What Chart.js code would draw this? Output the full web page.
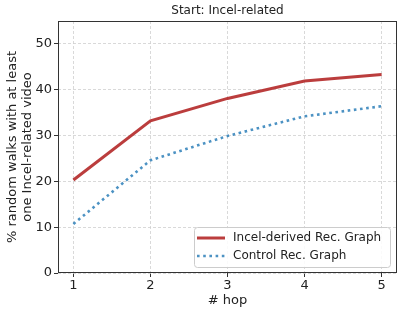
<!DOCTYPE html>
<html>
<head>
<meta charset="utf-8">
<script src="https://cdn.jsdelivr.net/npm/chart.js@4/dist/chart.umd.min.js"></script>
<style>
  html, body { margin: 0; padding: 0; background: #fff; }
  #wrap { width: 407px; height: 315px; }
</style>
</head>
<body>
<div id="wrap"><canvas id="hopChart" width="407" height="315"></canvas></div>
<script>
var hops = [1, 2, 3, 4, 5];
var yTicks = [0, 10, 20, 30, 40, 50];
var incelDerived = [20.3, 33.2, 38.1, 41.9, 43.3];
var control = [10.7, 24.6, 29.9, 34.2, 36.4];
var seriesNames = ['Incel-derived Rec. Graph', 'Control Rec. Graph'];

function toPoints(values) {
  return hops.map(function(h, i) { return { x: h, y: values[i] }; });
}

var font = 'DejaVu Sans';

// frame around the plot area, like matplotlib spines
var framePlugin = {
  id: 'frame',
  afterDraw: function(chart) {
    var a = chart.chartArea;
    var ctx = chart.ctx;
    ctx.save();
    ctx.strokeStyle = '#333';
    ctx.lineWidth = 1;
    ctx.strokeRect(a.left + 0.5, a.top + 0.5, a.right - a.left - 1, a.bottom - a.top - 1);
    ctx.restore();
  }
};

// legend inside the plot, lower right
var innerLegend = {
  id: 'innerLegend',
  afterDraw: function(chart) {
    var a = chart.chartArea;
    var ctx = chart.ctx;
    var w = 196, h = 40;
    var x = a.right - 7 - w, y = a.bottom - 6 - h;
    ctx.save();
    ctx.beginPath();
    if (ctx.roundRect) { ctx.roundRect(x + 0.5, y + 0.5, w, h, 3); } else { ctx.rect(x + 0.5, y + 0.5, w, h); }
    ctx.fillStyle = 'rgba(255,255,255,0.85)';
    ctx.fill();
    ctx.strokeStyle = '#cccccc';
    ctx.lineWidth = 1;
    ctx.stroke();
    ctx.font = '12px "' + font + '"';
    ctx.textBaseline = 'middle';
    ctx.textAlign = 'left';
    chart.data.datasets.forEach(function(ds, i) {
      var ry = y + 11 + i * 18;
      ctx.beginPath();
      ctx.strokeStyle = ds.borderColor;
      ctx.lineWidth = ds.borderWidth;
      ctx.setLineDash(ds.borderDash || []);
      ctx.moveTo(x + 3, ry);
      ctx.lineTo(x + 31, ry);
      ctx.stroke();
      ctx.setLineDash([]);
      ctx.fillStyle = '#222';
      ctx.fillText(ds.label, x + 39, ry);
    });
    ctx.restore();
  }
};

var ctx = document.getElementById('hopChart').getContext('2d');
new Chart(ctx, {
  type: 'line',
  data: {
    datasets: [{
      label: seriesNames[0],
      data: toPoints(incelDerived),
      borderColor: 'rgba(178, 34, 34, 0.88)',
      borderWidth: 3,
      pointRadius: 0,
      tension: 0
    }, {
      label: seriesNames[1],
      data: toPoints(control),
      borderColor: 'rgba(31, 119, 180, 0.8)',
      borderWidth: 2.6,
      borderDash: [2.6, 3.6],
      pointRadius: 0,
      tension: 0
    }]
  },
  plugins: [framePlugin, innerLegend],
  options: {
    responsive: false,
    animation: false,
    layout: { padding: { left: 4, right: 10, top: 0, bottom: 4 } },
    plugins: {
      legend: { display: false },
      tooltip: { enabled: false },
      title: {
        display: true,
        text: 'Start: Incel-related',
        fullSize: false,
        color: '#222',
        font: { family: font, size: 12, weight: 'normal', lineHeight: 1.2 },
        padding: { top: 4, bottom: 2.6 }
      }
    },
    scales: {
      x: {
        type: 'linear',
        min: 0.8,
        max: 5.2,
        afterBuildTicks: function(scale) {
          scale.ticks = hops.map(function(v) { return { value: v }; });
        },
        afterFit: function(scale) { scale.height = 38; },
        ticks: {
          color: '#222',
          padding: 1,
          maxRotation: 0,
          font: { family: font, size: 13 }
        },
        grid: {
          color: '#cfcfcf',
          lineWidth: 0.8,
          tickColor: '#333',
          tickLength: 4,
          tickWidth: 1
        },
        border: { display: false, dash: [3, 2] },
        title: {
          display: true,
          text: '# hop',
          color: '#222',
          font: { family: font, size: 13, lineHeight: 1.15 },
          padding: { top: 0, bottom: 2.5 }
        }
      },
      y: {
        min: 0,
        max: 55,
        afterBuildTicks: function(scale) {
          scale.ticks = yTicks.map(function(v) { return { value: v }; });
        },
        afterFit: function(scale) { scale.width = 54; },
        ticks: {
          color: '#222',
          padding: 2,
          font: { family: font, size: 13 }
        },
        grid: {
          color: '#cfcfcf',
          lineWidth: 0.8,
          tickColor: '#333',
          tickLength: 4,
          tickWidth: 1
        },
        border: { display: false, dash: [3, 2] },
        title: {
          display: true,
          text: ['% random walks with at least', 'one Incel-related video'],
          color: '#222',
          font: { family: font, size: 13, lineHeight: 1.15 },
          padding: { top: 1, bottom: 0 }
        }
      }
    }
  }
});
</script>
</body>
</html>
